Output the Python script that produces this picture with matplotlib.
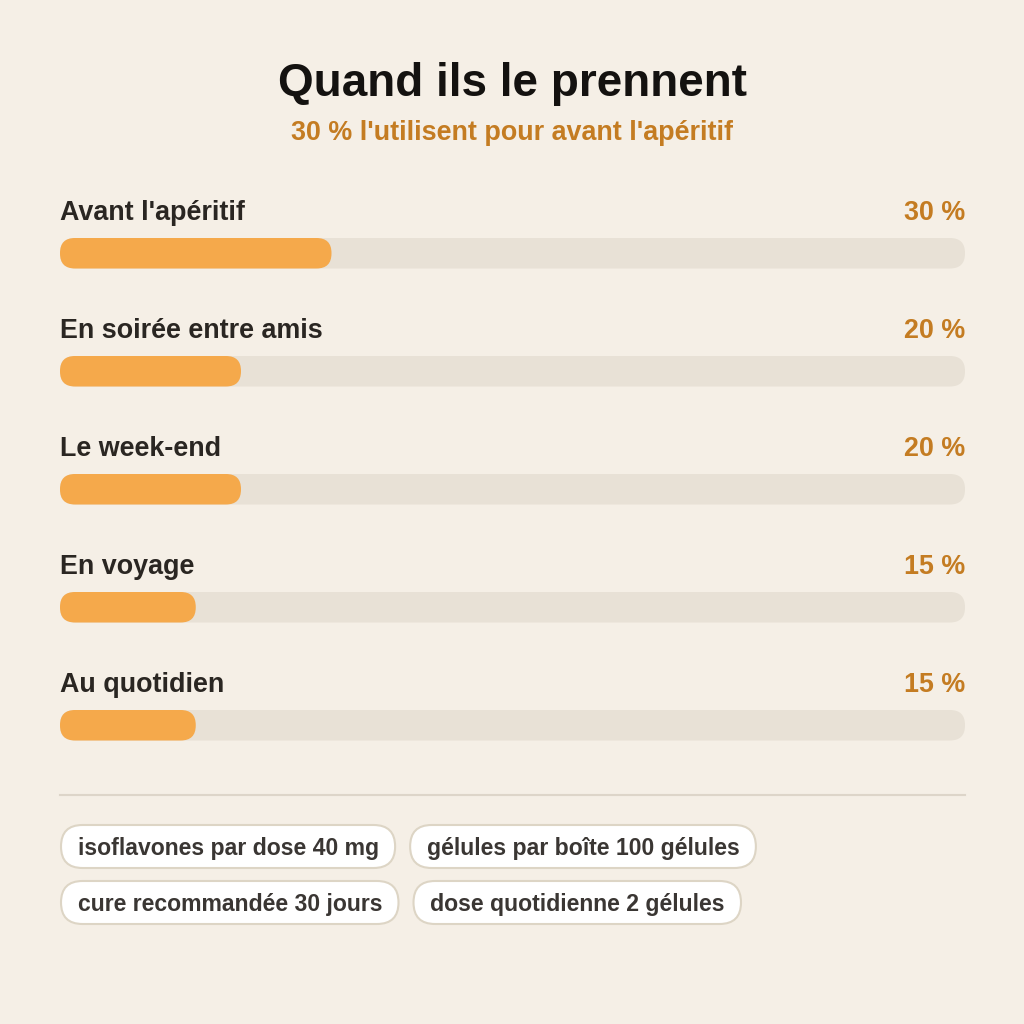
import matplotlib
matplotlib.use('Agg')
from matplotlib import pyplot as plt
from matplotlib.patches import FancyBboxPatch

plt.rcParams['font.family'] = ['Liberation Sans', 'DejaVu Sans']

title = "Quand ils le prennent"
subtitle = "30 % l'utilisent pour avant l'apéritif"
categories = ["Avant l'apéritif", "En soirée entre amis", "Le week-end", "En voyage", "Au quotidien"]
values = [30, 20, 20, 15, 15]
pills = [["isoflavones par dose 40 mg", "gélules par boîte 100 gélules"],
         ["cure recommandée 30 jours", "dose quotidienne 2 gélules"]]

bg = '#f5efe6'
track_col = '#e8e1d6'
bar_col = '#f5a94b'
accent = '#c47c22'
dark = '#2a2622'

fig = plt.figure(figsize=(10.24, 10.24), dpi=100, facecolor=bg)
ax = fig.add_axes([0, 0, 1, 1])
ax.set_xlim(0, 1024)
ax.set_ylim(1024, 0)
ax.axis('off')
ax.set_facecolor(bg)

ax.text(512, 96, title, ha='center', va='baseline', fontsize=33,
        fontweight='bold', color='#141210')
ax.text(512, 140, subtitle, ha='center', va='baseline', fontsize=19.4,
        fontweight='bold', color=accent)

x0, x1 = 60, 965
full = x1 - x0
for i, (cat, v) in enumerate(zip(categories, values)):
    ytxt = 220 + i * 118
    ybar = 238 + i * 118
    ax.text(x0, ytxt, cat, ha='left', va='baseline', fontsize=19.4,
            fontweight='bold', color=dark)
    ax.text(x1, ytxt, f"{v} %", ha='right', va='baseline', fontsize=19.4,
            fontweight='bold', color=accent)
    ax.add_patch(FancyBboxPatch((x0, ybar), full, 30.5,
                                boxstyle='round,pad=0,rounding_size=15',
                                fc=track_col, ec='none'))
    ax.add_patch(FancyBboxPatch((x0, ybar), full * v / 100, 30.5,
                                boxstyle='round,pad=0,rounding_size=15',
                                fc=bar_col, ec='none'))

ax.plot([x0, x1], [795, 795], color='#ddd5c9', lw=1.5)

# pills: size them from the rendered text
fig.canvas.draw()
renderer = fig.canvas.get_renderer()
inv = ax.transData.inverted()
for r, row in enumerate(pills):
    yc = 846.5 + r * 56
    x = 61
    for label in row:
        t = ax.text(x + 16.5, yc + 8.5, label, ha='left', va='baseline', fontsize=16.6,
                    fontweight='bold', color='#3a3633', zorder=3)
        bb = t.get_window_extent(renderer)
        (ax0, _), (ax1, _) = inv.transform([[bb.x0, bb.y0], [bb.x1, bb.y1]])
        w = (ax1 - ax0) + 33
        ax.add_patch(FancyBboxPatch((x, yc - 21.5), w, 43,
                                    boxstyle='round,pad=0,rounding_size=21.5',
                                    fc='white', ec='#ddd5c5', lw=1.5, zorder=2))
        x += w + 15

fig.savefig('out.png', dpi=100, facecolor=bg)
